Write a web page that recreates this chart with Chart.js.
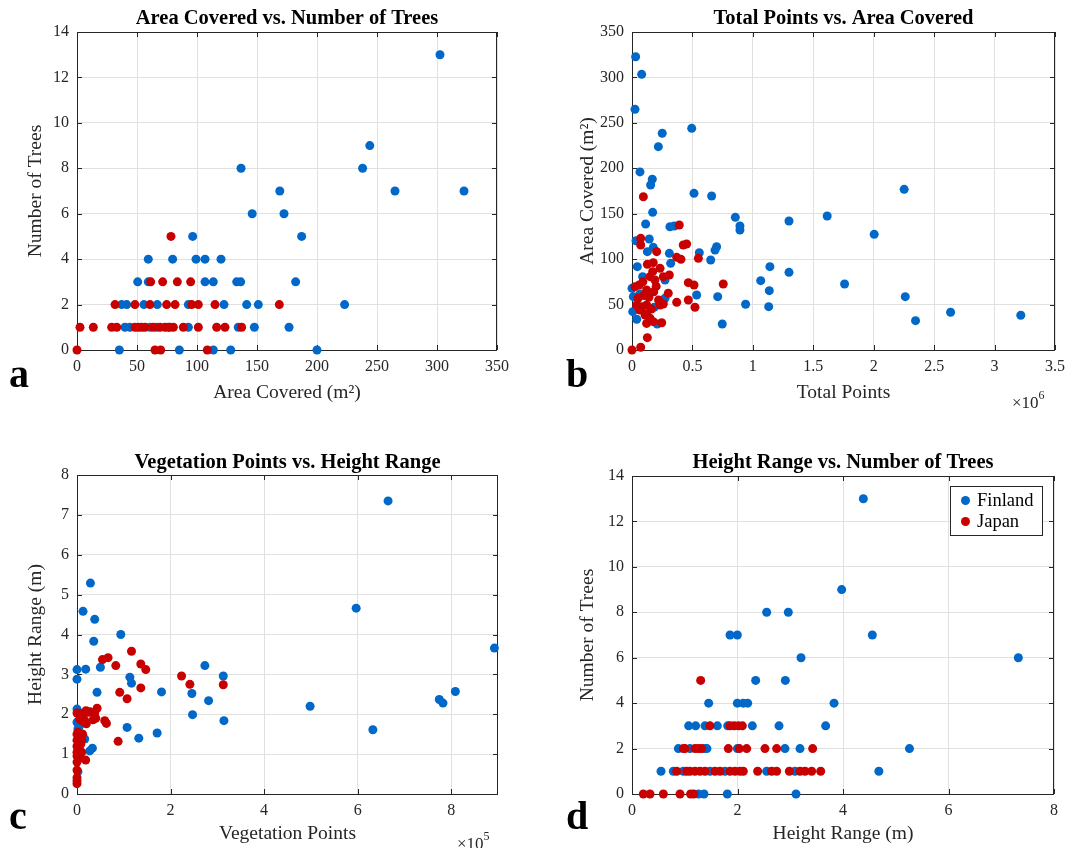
<!DOCTYPE html>
<html><head><meta charset="utf-8">
<script src="https://cdn.jsdelivr.net/npm/chart.js@4.4.1/dist/chart.umd.min.js"></script>
<style>
html,body{margin:0;padding:0;background:#fff;}
body{width:1077px;height:848px;position:relative;overflow:hidden;font-family:"Liberation Serif","Times New Roman",serif;}
canvas{position:absolute;}
.letter{position:absolute;font-weight:bold;font-size:40px;line-height:40px;color:#000;}
.exp{position:absolute;font-size:17px;line-height:17px;color:#262626;white-space:nowrap;}
.exp sup{font-size:12px;position:relative;top:-2px;}
#legend{position:absolute;left:950px;top:486px;width:91px;height:48px;border:1px solid #262626;background:#fff;font-size:18.5px;color:#000;}
#legend .row{position:absolute;left:0;height:20px;line-height:20px;}
#legend .dot{position:absolute;left:10px;top:6px;width:9px;height:9px;border-radius:50%;}
#legend .txt{position:absolute;left:26px;top:0;}
</style></head>
<body>
<canvas id="ca" width="540" height="425" style="left:0;top:0;width:540px;height:425px"></canvas>
<canvas id="cb" width="537" height="425" style="left:540px;top:0;width:537px;height:425px"></canvas>
<canvas id="cc" width="540" height="423" style="left:0;top:425px;width:540px;height:423px"></canvas>
<canvas id="cd" width="537" height="423" style="left:540px;top:425px;width:537px;height:423px"></canvas>
<div class="letter" style="left:9px;top:354px">a</div>
<div class="letter" style="left:566px;top:354px">b</div>
<div class="letter" style="left:9px;top:796px">c</div>
<div class="letter" style="left:566px;top:796px">d</div>
<div class="exp" style="left:1012px;top:389px">&times;10<sup>6</sup></div>
<div class="exp" style="left:457px;top:830px">&times;10<sup>5</sup></div>
<div id="legend">
  <div class="row" style="top:3px"><span class="dot" style="background:#0068c9"></span><span class="txt">Finland</span></div>
  <div class="row" style="top:24px"><span class="dot" style="background:#c80000"></span><span class="txt">Japan</span></div>
</div>
<script>
// ---------- Series names & colours ----------
const seriesNames = ['Finland', 'Japan'];
const seriesColors = ['#0068c9', '#c80000'];

// ---------- Panel a: Area Covered (m²) vs Number of Trees ----------
const aFinland = [
  [35.3,0],[85.3,0],[113.6,0],[128.1,0],[200,0],
  [40,1],[44.2,1],[60.8,1],[66.4,1],[77.5,1],[92.8,1],[134.4,1],[147.8,1],[176.7,1],
  [37.2,2],[41.4,2],[55.8,2],[66.9,2],[92.8,2],[122.5,2],[141.4,2],[151.1,2],[223,2],
  [50.6,3],[59.4,3],[106.7,3],[113.6,3],[133.1,3],[136.4,3],[182.2,3],
  [59.4,4],[79.7,4],[99.2,4],[106.7,4],[120,4],
  [96.4,5],[187.2,5],
  [146,6],[172.5,6],
  [169,7],[265,7],[322.5,7],
  [136.7,8],[238,8],
  [244,9],
  [302.5,13]
];
const aJapan = [
  [0,0],[65,0],[69.7,0],[108.6,0],
  [2.5,1],[13.6,1],[28.9,1],[33.1,1],[48.3,1],[51.1,1],[53.9,1],[56.7,1],[63.6,1],[69.2,1],[73.3,1],[76.1,1],[80.3,1],[88.6,1],[101.1,1],[116.4,1],[123.3,1],[137.2,1],
  [31.7,2],[48.3,2],[60.8,2],[74.7,2],[81.7,2],[95.6,2],[101.1,2],[115,2],[168.6,2],
  [61.4,3],[71.4,3],[83.6,3],[94.7,3],
  [78.3,5]
];
const aXTicks = [0,50,100,150,200,250,300,350];
const aXLabels = ['0','50','100','150','200','250','300','350'];
const aYTicks = [0,2,4,6,8,10,12,14];
const aYLabels = ['0','2','4','6','8','10','12','14'];

// ---------- Panel b: Total Points vs Area Covered ----------
const bFinland = [
  [66e3,196],[168e3,188],[154e3,181.6],[513e3,172.4],[659e3,169.5],[171e3,151.5],[855e3,146],[893e3,136.5],[893e3,132],[1299e3,142],
  [113e3,138.7],[314e3,135.7],[350e3,136.5],[33e3,120.3],[143e3,122.2],[700e3,113.7],[687e3,110],[127e3,108.2],[176e3,113],[557e3,107.1],
  [309e3,106.4],[651e3,99],[320e3,95.4],[44e3,91.7],[1141e3,91.7],[1299e3,85.5],[273e3,77],[1065e3,76.3],[88e3,80.7],[0,67.9],
  [1136e3,65.3],[66e3,61.6],[11e3,58.7],[535e3,60.5],[709e3,58.7],[273e3,56.9],[184e3,47],[940e3,50.3],[1131e3,47.7],[6e3,42.2],
  [39e3,33.8],[209e3,28.6],[747e3,28.6],[30e3,322.8],[80e3,303.4],[25e3,264.9],[250e3,238.5],[494e3,244],[218e3,223.8],
  [2252e3,176.8],[1615e3,147.5],[2004e3,127.3],[1759e3,72.6],[2261e3,58.7],[2346e3,32.3],[2636e3,41.5],[3217e3,38.2]
];
const bJapan = [
  [94e3,168.7],[391e3,137.6],[72e3,122.9],[72e3,115.6],[424e3,115.6],[452e3,116.7],[204e3,108.2],[549e3,100.9],[370e3,102],[405e3,99.8],
  [127e3,94.3],[176e3,96.1],[232e3,89.9],[171e3,86.2],[309e3,82.5],[259e3,80.7],[466e3,74.1],[513e3,71.5],[755e3,72.6],[149e3,80.7],
  [25e3,69.7],[60e3,71.5],[190e3,77],[121e3,66],[300e3,62.4],[466e3,55],[370e3,52.5],[39e3,49.5],[80e3,47.7],[121e3,49.5],
  [232e3,49.5],[259e3,50.6],[521e3,47],[66e3,44],[108e3,38.5],[149e3,34.9],[176e3,31.2],[246e3,30],[121e3,29.3],[127e3,13.6],
  [0,0],[72e3,3],[100e3,60],[140e3,58],[50e3,57],[180e3,64],[90e3,75],[200e3,70],[160e3,45],[120e3,40],[220e3,55]
];
const bXTicks = [0,0.5e6,1e6,1.5e6,2e6,2.5e6,3e6,3.5e6];
const bXLabels = ['0','0.5','1','1.5','2','2.5','3','3.5'];
const bYTicks = [0,50,100,150,200,250,300,350];
const bYLabels = ['0','50','100','150','200','250','300','350'];

// ---------- Panel c: Vegetation Points vs Height Range (m) ----------
const cFinland = [
  [28700,5.29],[12900,4.58],[37900,4.38],[93600,4.0],[35800,3.83],[50000,3.18],[0,3.12],[18600,3.13],[0,2.88],[113000,2.93],
  [116500,2.78],[273400,3.22],[312700,2.96],[180700,2.56],[245600,2.52],[42800,2.55],[281300,2.34],[247000,1.99],[314100,1.84],[107100,1.67],
  [171300,1.53],[132100,1.4],[0,2.13],[0,1.8],[2000,1.63],[9400,1.51],[16500,1.38],[27200,1.08],[32900,1.15],[2000,0.56],
  [5000,1.7],[10000,1.45],[5000,1.2],[3000,0.95],
  [596800,4.66],[498300,2.2],[632500,1.61],[774500,2.37],[782400,2.28],[808800,2.57],[892300,3.66],[665000,7.35]
];
const cJapan = [
  [116500,3.58],[54400,3.37],[66400,3.42],[82900,3.22],[136400,3.26],[147100,3.12],[223500,2.96],[241300,2.75],[312700,2.74],[136400,2.66],
  [91400,2.55],[107100,2.39],[62900,1.77],[59300,1.84],[87900,1.32],[0,2.03],[43000,2.15],[37900,2.04],[23600,2.05],[12900,1.93],
  [9300,1.84],[20000,1.76],[40000,1.9],[8600,2.02],[19300,2.09],[27900,2.06],[5800,1.88],[16500,1.84],[34300,1.86],[18600,0.85],
  [0,0.6],[0,0.41],[0,0.33],[0,0.26],[0,1.5],[3000,1.45],[6000,1.4],[0,1.35],[4000,1.3],[8000,1.25],
  [0,1.2],[2000,1.15],[5000,1.1],[0,1.05],[3000,1.0],[0,0.95],[6000,0.9],[10000,1.35],[12000,1.5],[2000,1.55],
  [0,0.8],[10000,1.05]
];
const cXTicks = [0,2e5,4e5,6e5,8e5];
const cXLabels = ['0','2','4','6','8'];
const cYTicks = [0,1,2,3,4,5,6,7,8];
const cYLabels = ['0','1','2','3','4','5','6','7','8'];

// ---------- Panel d: Height Range (m) vs Number of Trees ----------
const dFinland = [
  [1.26,0],[1.365,0],[1.807,0],[3.109,0],
  [0.55,1],[0.784,1],[0.973,1],[1.479,1],[1.763,1],[2.553,1],[3.09,1],[4.68,1],
  [0.879,2],[1.099,2],[1.384,2],[1.42,2],[1.997,2],[2.9,2],[3.185,2],[5.26,2],
  [1.074,3],[1.207,3],[1.384,3],[1.618,3],[1.814,3],[2.281,3],[2.787,3],[3.671,3],
  [1.453,4],[1.997,4],[2.11,4],[2.193,4],[3.83,4],
  [2.344,5],[2.907,5],
  [3.204,6],[7.324,6],
  [1.858,7],[1.997,7],[4.556,7],
  [2.553,8],[2.963,8],
  [3.975,9],
  [4.386,13]
];
const dJapan = [
  [0.215,0],[0.341,0],[0.594,0],[0.91,0],[1.11,0],[1.17,0],
  [0.847,1],[1.036,1],[1.099,1],[1.194,1],[1.289,1],[1.384,1],[1.573,1],[1.668,1],[1.858,1],[1.953,1],
  [2.047,1],[2.11,1],[2.382,1],[2.648,1],[2.742,1],[2.983,1],[3.185,1],[3.28,1],[3.406,1],[3.577,1],
  [0.973,2],[1.005,2],[1.194,2],[1.257,2],[1.32,2],[1.826,2],[2.035,2],[2.174,2],[2.521,2],[2.742,2],[3.425,2],
  [1.479,3],[1.858,3],[1.934,3],[2.016,3],[2.092,3],
  [1.302,5]
];
const dXTicks = [0,2,4,6,8];
const dXLabels = ['0','2','4','6','8'];
const dYTicks = [0,2,4,6,8,10,12,14];
const dYLabels = ['0','2','4','6','8','10','12','14'];

// ---------- Shared styling ----------
const FONT = 'Liberation Serif';
const AXIS_COLOR = '#262626';
const GRID_COLOR = '#e0e0e0';
const TITLE_SIZE = 20.5, LABEL_SIZE = 19.5, TICK_SIZE = 16;

const matlabAxes = {
  id: 'matlabAxes',
  beforeDatasetsDraw(chart) {
    const {ctx, chartArea: a, scales} = chart;
    const xs = scales.x, ys = scales.y;
    const tl = 5;
    ctx.save();
    ctx.strokeStyle = AXIS_COLOR;
    ctx.lineWidth = 1;
    ctx.beginPath();
    xs.ticks.forEach(t => {
      const px = Math.round(xs.getPixelForValue(t.value)) + 0.5;
      ctx.moveTo(px, a.bottom); ctx.lineTo(px, a.bottom - tl);
      ctx.moveTo(px, a.top); ctx.lineTo(px, a.top + tl);
    });
    ys.ticks.forEach(t => {
      const py = Math.round(ys.getPixelForValue(t.value)) + 0.5;
      ctx.moveTo(a.left, py); ctx.lineTo(a.left + tl, py);
      ctx.moveTo(a.right, py); ctx.lineTo(a.right - tl, py);
    });
    ctx.stroke();
    ctx.strokeRect(Math.round(a.left) + 0.5, Math.round(a.top) + 0.5,
                   Math.round(a.right - a.left) - 1, Math.round(a.bottom - a.top));
    ctx.restore();
  }
};

function makePanel(id, g, spec) {
  const datasets = [spec.fin, spec.jap].map((d, i) => ({
    label: seriesNames[i],
    data: d,
    backgroundColor: seriesColors[i],
    borderColor: seriesColors[i],
    borderWidth: 0,
    pointRadius: 4.5,
    pointHoverRadius: 4.5,
    pointBorderWidth: 0,
    showLine: false,
    clip: false,
    order: i === 0 ? 1 : 0
  }));
  const tLH = TITLE_SIZE * 1.2, lLH = LABEL_SIZE * 1.2;
  return new Chart(document.getElementById(id), {
    type: 'scatter',
    data: {datasets},
    plugins: [matlabAxes],
    options: {
      responsive: false,
      animation: false,
      events: [],
      layout: {padding: {left: 0, top: 0, bottom: 0, right: g.W - g.R}},
      plugins: {
        legend: {display: false},
        tooltip: {enabled: false},
        title: {
          display: true, text: spec.title, fullSize: false, color: '#000',
          font: {family: FONT, size: TITLE_SIZE, weight: 'bold', lineHeight: 1.2},
          padding: {top: g.tCenter - tLH / 2, bottom: g.T - tLH - (g.tCenter - tLH / 2)}
        }
      },
      scales: {
        x: {
          type: 'linear', position: 'bottom',
          min: spec.xMin, max: spec.xMax,
          border: {display: false},
          grid: {color: GRID_COLOR, lineWidth: 1, drawTicks: false},
          ticks: {
            autoSkip: false, maxRotation: 0,
            padding: 7, color: AXIS_COLOR, font: {family: FONT, size: TICK_SIZE},
            callback: (v, i) => spec.xLabels[i]
          },
          afterBuildTicks: s => { s.ticks = spec.xTicks.map(v => ({value: v})); },
          title: {display: true, text: spec.xTitle, color: AXIS_COLOR,
            font: {family: FONT, size: LABEL_SIZE, lineHeight: 1.2},
            padding: {top: 0, bottom: g.xtOff - lLH / 2}},
          afterFit: s => { s.height = g.H - g.B; }
        },
        y: {
          type: 'linear', position: 'left',
          min: spec.yMin, max: spec.yMax,
          border: {display: false},
          grid: {color: GRID_COLOR, lineWidth: 1, drawTicks: false},
          ticks: {
            autoSkip: false,
            padding: 8, color: AXIS_COLOR, font: {family: FONT, size: TICK_SIZE},
            callback: (v, i) => spec.yLabels[i]
          },
          afterBuildTicks: s => { s.ticks = spec.yTicks.map(v => ({value: v})); },
          title: {display: true, text: spec.yTitle, color: AXIS_COLOR,
            font: {family: FONT, size: LABEL_SIZE, lineHeight: 1.2},
            padding: {top: g.ytCenter - lLH / 2, bottom: 0}},
          afterFit: s => { s.width = g.L; }
        }
      }
    }
  });
}

makePanel('ca', {W:540, H:425, L:77, R:497, T:32, B:350, tCenter:19, xtOff:32, ytCenter:36}, {
  fin: aFinland, jap: aJapan, title: 'Area Covered vs. Number of Trees',
  xTitle: 'Area Covered (m²)', yTitle: 'Number of Trees',
  xMin: 0, xMax: 350, yMin: 0, yMax: 14,
  xTicks: aXTicks, yTicks: aYTicks, xLabels: aXLabels, yLabels: aYLabels
});
makePanel('cb', {W:537, H:425, L:92, R:515, T:32, B:350, tCenter:19, xtOff:32, ytCenter:48}, {
  fin: bFinland, jap: bJapan, title: 'Total Points vs. Area Covered',
  xTitle: 'Total Points', yTitle: 'Area Covered (m²)',
  xMin: 0, xMax: 3.5e6, yMin: 0, yMax: 350,
  xTicks: bXTicks, yTicks: bYTicks, xLabels: bXLabels, yLabels: bYLabels
});
makePanel('cc', {W:540, H:423, L:77, R:498, T:50, B:369, tCenter:38, xtOff:14, ytCenter:36}, {
  fin: cFinland, jap: cJapan, title: 'Vegetation Points vs. Height Range',
  xTitle: 'Vegetation Points', yTitle: 'Height Range (m)',
  xMin: 0, xMax: 9e5, yMin: 0, yMax: 8,
  xTicks: cXTicks, yTicks: cYTicks, xLabels: cXLabels, yLabels: cYLabels
});
makePanel('cd', {W:537, H:423, L:92, R:514, T:51, B:369, tCenter:38, xtOff:14, ytCenter:48}, {
  fin: dFinland, jap: dJapan, title: 'Height Range vs. Number of Trees',
  xTitle: 'Height Range (m)', yTitle: 'Number of Trees',
  xMin: 0, xMax: 8, yMin: 0, yMax: 14,
  xTicks: dXTicks, yTicks: dYTicks, xLabels: dXLabels, yLabels: dYLabels
});
</script>
</body></html>
